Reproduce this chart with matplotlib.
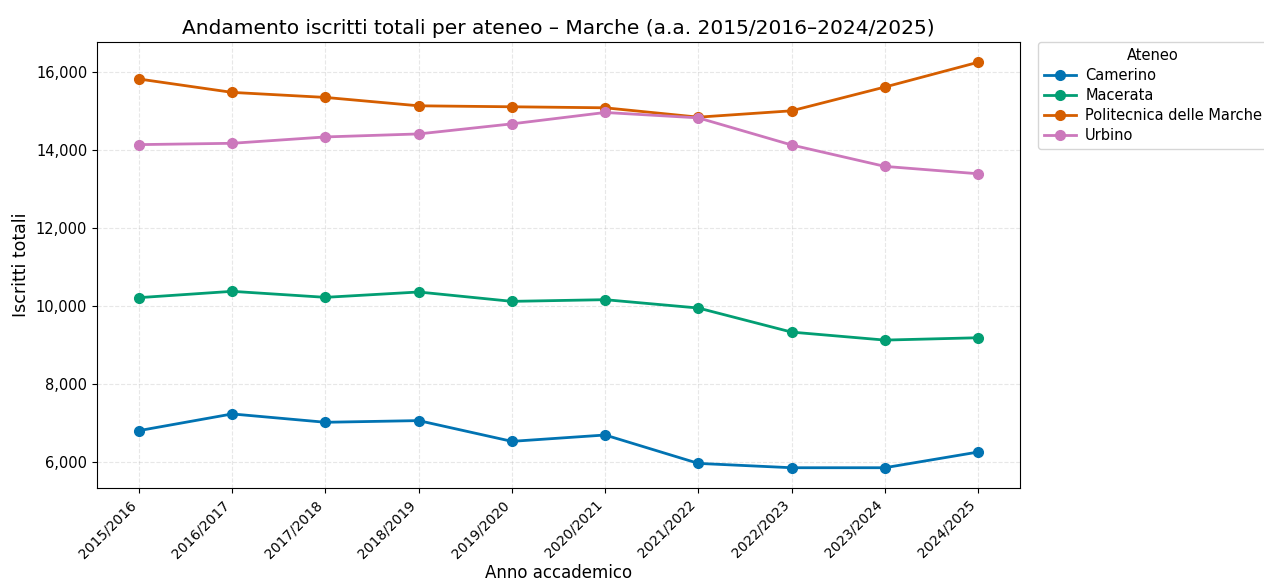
import matplotlib
matplotlib.use('Agg')
import matplotlib.pyplot as plt
from matplotlib.ticker import FuncFormatter

# Academic years and enrolment totals per university
anni = ['2015/2016', '2016/2017', '2017/2018', '2018/2019', '2019/2020',
        '2020/2021', '2021/2022', '2022/2023', '2023/2024', '2024/2025']
camerino = [6797, 7225, 7011, 7054, 6522, 6685, 5957, 5846, 5846, 6248]
macerata = [10206, 10368, 10214, 10351, 10111, 10154, 9940, 9323, 9118, 9178]
politecnica = [15811, 15468, 15339, 15124, 15099, 15073, 14833, 14996, 15605, 16240]
urbino = [14129, 14163, 14326, 14403, 14661, 14953, 14815, 14120, 13571, 13382]

atenei = ['Camerino', 'Macerata', 'Politecnica delle Marche', 'Urbino']
serie = [camerino, macerata, politecnica, urbino]
colori = ['#0173b2', '#029e73', '#d55e00', '#cc78bc']

fig = plt.figure(figsize=(12.64, 5.81), dpi=100)
ax = fig.add_axes([97 / 1264, 1 - 488 / 581, (1020 - 97) / 1264, (488 - 42) / 581])

x = range(len(anni))
for nome, valori, col in zip(atenei, serie, colori):
    ax.plot(x, valori, marker='o', color=col, linewidth=2, markersize=7, label=nome)

ax.set_xticks(list(x))
ax.set_xticklabels(anni, rotation=45, ha='right', fontsize=10)
ax.tick_params(axis='y', labelsize=10.5)
ax.yaxis.set_major_formatter(FuncFormatter(lambda v, p: f'{int(v):,}'))
ax.grid(True, linestyle='--', alpha=0.3)

ax.set_title('Andamento iscritti totali per ateneo – Marche (a.a. 2015/2016–2024/2025)', fontsize=14.5)
ax.set_xlabel('Anno accademico', fontsize=12, labelpad=2)
ax.set_ylabel('Iscritti totali', fontsize=12.5)

ax.legend(title='Ateneo', loc='upper left', bbox_to_anchor=(1.02, 1.0),
          borderaxespad=0, fontsize=10.5, title_fontsize=10.5, labelspacing=0.35,
          handlelength=2.2, handletextpad=0.6)

fig.savefig('out.png', dpi=100)
